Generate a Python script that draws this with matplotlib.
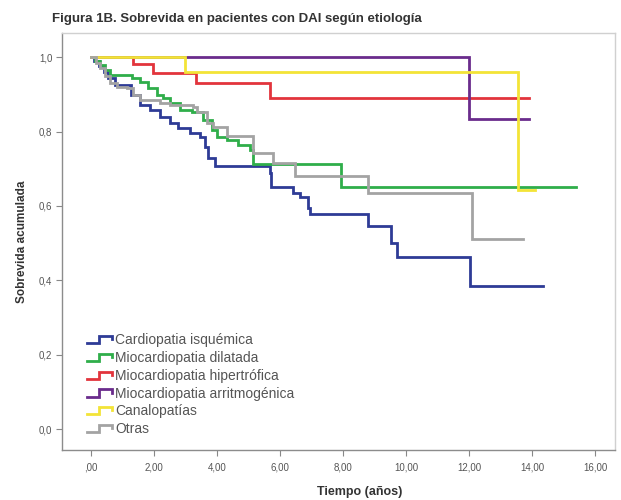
import matplotlib.pyplot as plt
from matplotlib.legend_handler import HandlerBase
from matplotlib.lines import Line2D
import numpy as np

plt.rcParams['font.family'] = ['Liberation Sans', 'DejaVu Sans']

etiologias = ['Cardiopatia isquémica', 'Miocardiopatia dilatada', 'Miocardiopatia hipertrófica',
              'Miocardiopatia arritmogénica', 'Canalopatías', 'Otras']
colores = ['#2e3b96', '#2fae4a', '#e2343c', '#6a2c8c', '#f3e437', '#a3a3a3']

# tiempo de cada escalón (años) y sobrevida acumulada tras el escalón
t_isq = [0, 0.1, 0.25, 0.4, 0.55, 0.76, 1.27, 1.56, 1.87, 2.19, 2.51, 2.76, 3.14, 3.46, 3.62, 3.71,
         3.94, 5.68, 5.71, 6.41, 6.63, 6.89, 6.95, 8.79, 9.52, 9.71, 12.03, 14.35]
s_isq = [1.0, 0.99, 0.975, 0.96, 0.945, 0.925, 0.898, 0.871, 0.858, 0.839, 0.823, 0.809, 0.796, 0.785,
         0.758, 0.728, 0.707, 0.688, 0.651, 0.634, 0.624, 0.594, 0.578, 0.546, 0.50, 0.462, 0.384, 0.384]

t_dil = [0, 0.13, 0.29, 0.44, 0.6, 1.3, 1.56, 1.81, 2.1, 2.29, 2.51, 2.83, 3.21, 3.56, 3.84, 4.0,
         4.32, 4.67, 5.05, 5.14, 7.94, 15.4]
s_dil = [1.0, 0.99, 0.98, 0.965, 0.952, 0.944, 0.933, 0.917, 0.898, 0.89, 0.876, 0.858, 0.852, 0.831,
         0.804, 0.785, 0.777, 0.763, 0.75, 0.712, 0.65, 0.65]

t_hip = [0, 1.33, 1.97, 3.33, 5.68, 13.9]
s_hip = [1.0, 0.983, 0.958, 0.93, 0.89, 0.89]

t_arr = [0, 12.0, 13.9]
s_arr = [1.0, 0.833, 0.833]

t_can = [0, 3.0, 13.55, 14.1]
s_can = [1.0, 0.96, 0.643, 0.643]

t_otr = [0, 0.15, 0.29, 0.45, 0.6, 0.83, 1.14, 1.33, 1.56, 2.19, 2.51, 3.24, 3.37, 3.68, 3.87, 4.32,
         5.14, 5.78, 6.48, 8.79, 12.1, 13.7]
s_otr = [1.0, 0.985, 0.97, 0.95, 0.93, 0.919, 0.917, 0.898, 0.884, 0.876, 0.871, 0.866, 0.852, 0.823,
         0.812, 0.788, 0.742, 0.715, 0.68, 0.634, 0.511, 0.511]

curvas = [(t_isq, s_isq), (t_dil, s_dil), (t_hip, s_hip), (t_arr, s_arr), (t_can, s_can), (t_otr, s_otr)]
x_ticks = np.arange(0, 17, 2)
y_ticks = np.arange(0, 1.01, 0.2)


class HandlerEscalon(HandlerBase):
    # icono de escalón como el de SPSS
    def create_artists(self, legend, orig_handle, xdescent, ydescent, width, height, fontsize, trans):
        x0 = -xdescent
        y0 = -ydescent
        xs = [x0, x0 + 0.45 * width, x0 + 0.45 * width, x0 + 0.95 * width, x0 + 0.95 * width]
        ys = [y0 + 0.1 * height, y0 + 0.1 * height, y0 + 0.85 * height, y0 + 0.85 * height, y0 + 0.5 * height]
        ln = Line2D(xs, ys, color=orig_handle.get_color(), lw=orig_handle.get_linewidth(),
                    solid_joinstyle='miter')
        ln.set_transform(trans)
        return [ln]


fig = plt.figure(figsize=(6.21, 5.0), dpi=100)
ax = fig.add_axes([0.0998, 0.1, 0.8905, 0.834])

handles = []
for (t, s), nombre, c in zip(curvas, etiologias, colores):
    ln, = ax.step(t, s, where='post', color=c, lw=2.0, label=nombre, solid_joinstyle='miter')
    handles.append(ln)

ax.set_xlim(-0.92, 16.63)
ax.set_ylim(-0.056, 1.065)
ax.set_xticks(x_ticks)
ax.set_xticklabels([',00'] + ['%d,00' % v for v in x_ticks[1:]])
ax.set_yticks(y_ticks)
ax.set_yticklabels([('%.1f' % v).replace('.', ',') for v in y_ticks])
ax.tick_params(direction='out', length=4, width=0.8, color='#888888', labelsize=7,
               labelcolor='#555555')
ax.tick_params(axis='x', pad=5)
ax.tick_params(axis='y', pad=3)

for lado in ['left', 'bottom']:
    ax.spines[lado].set_color('#8c8c8c')
    ax.spines[lado].set_linewidth(1.0)
for lado in ['top', 'right']:
    ax.spines[lado].set_color('#d0d0d0')
    ax.spines[lado].set_linewidth(1.0)

ax.set_xlabel('Tiempo (años)', fontsize=9, fontweight='bold', color='#333333')
ax.xaxis.set_label_coords(0.539, -0.086)
ax.set_ylabel('Sobrevida acumulada', fontsize=8.5, fontweight='bold', color='#333333', labelpad=8)

ax.legend(handles=handles, loc='lower left', bbox_to_anchor=(0.035, 0.02), frameon=False,
          fontsize=10, labelcolor='#555555', handlelength=1.9, handletextpad=0.15,
          labelspacing=0.27, borderaxespad=0, handler_map={Line2D: HandlerEscalon()})

fig.text(0.084, 0.962, 'Figura 1B. Sobrevida en pacientes con DAI según etiología',
         fontsize=9.5, fontweight='bold', color='#333333', va='center')

fig.savefig('out.png', dpi=100, facecolor='white')
